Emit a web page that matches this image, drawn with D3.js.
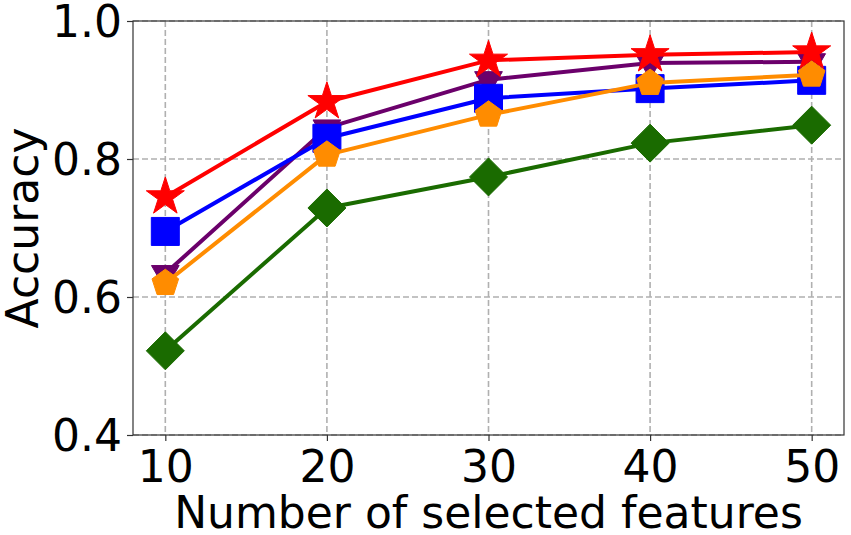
<!DOCTYPE html>
<html><head><meta charset="utf-8">
<script src="https://cdn.jsdelivr.net/npm/d3@7"></script>
<style>html,body{margin:0;padding:0;background:#fff;}svg{display:block;font-family:"DejaVu Sans",sans-serif;}</style>
</head><body>
<svg id="c" width="851" height="535"></svg>
<script>
const features = [10, 20, 30, 40, 50];
const xTicks = [10, 20, 30, 40, 50];
const yTicks = [0.4, 0.6, 0.8, 1.0];
const greenValues  = [0.522, 0.729, 0.774, 0.823, 0.849];
const purpleValues = [0.634, 0.845, 0.915, 0.939, 0.941];
const blueValues   = [0.695, 0.830, 0.888, 0.902, 0.914];
const orangeValues = [0.620, 0.806, 0.864, 0.910, 0.922];
const redValues    = [0.745, 0.883, 0.943, 0.951, 0.955];

const series = [
  {values: greenValues,  color: "#1a6b00", marker: "diamond"},
  {values: purpleValues, color: "#6b006b", marker: "tridown"},
  {values: blueValues,   color: "#0000ff", marker: "square"},
  {values: orangeValues, color: "#ff8c00", marker: "pentagon"},
  {values: redValues,    color: "#ff0000", marker: "star"}
];

const L = 133, R = 844, T = 21, B = 435;
const svg = d3.select("#c");
const x = d3.scaleLinear().domain([8, 52]).range([L, R]);
const y = d3.scaleLinear().domain([0.4, 1.0]).range([B, T]);

// grid
const g = svg.append("g");
g.selectAll("line.gx").data(xTicks).join("line")
  .attr("x1", d => x(d)).attr("x2", d => x(d)).attr("y1", T).attr("y2", B)
  .attr("stroke", "#b0b0b0").attr("stroke-width", 1.6).attr("stroke-dasharray", "6,3");
g.selectAll("line.gy").data(yTicks).join("line")
  .attr("y1", d => y(d)).attr("y2", d => y(d)).attr("x1", L).attr("x2", R)
  .attr("stroke", "#b0b0b0").attr("stroke-width", 1.6).attr("stroke-dasharray", "6,3");

function poly(pts){ return "M" + pts.map(p => p[0].toFixed(2) + "," + p[1].toFixed(2)).join("L") + "Z"; }
function markerPath(type){
  const pts = [];
  if (type === "star") {
    const Ro = 20, Ri = 20 * 0.381966;
    for (let i = 0; i < 10; i++) {
      const r = i % 2 === 0 ? Ro : Ri;
      const a = -Math.PI / 2 + i * Math.PI / 5;
      pts.push([r * Math.cos(a), r * Math.sin(a)]);
    }
  } else if (type === "pentagon") {
    const r = 14;
    for (let i = 0; i < 5; i++) {
      const a = -Math.PI / 2 + i * 2 * Math.PI / 5;
      pts.push([r * Math.cos(a), r * Math.sin(a)]);
    }
  } else if (type === "square") {
    const h = 14;
    pts.push([-h, -h], [h, -h], [h, h], [-h, h]);
  } else if (type === "diamond") {
    const h = 19;
    pts.push([0, -h], [h, 0], [0, h], [-h, 0]);
  } else if (type === "tridown") {
    const r = 16;
    for (let i = 0; i < 3; i++) {
      const a = Math.PI / 2 + i * 2 * Math.PI / 3;
      pts.push([r * Math.cos(a), r * Math.sin(a)]);
    }
  }
  return poly(pts);
}

const line = d3.line().x((d, i) => x(features[i])).y(d => y(d));
series.forEach(s => {
  const sg = svg.append("g");
  sg.append("path").datum(s.values).attr("d", line)
    .attr("fill", "none").attr("stroke", s.color).attr("stroke-width", 4).attr("stroke-linejoin", "round");
  sg.selectAll("path.m").data(s.values).join("path")
    .attr("class", "m")
    .attr("transform", (d, i) => `translate(${x(features[i])},${y(d)})`)
    .attr("d", markerPath(s.marker))
    .attr("fill", s.color).attr("stroke", s.color).attr("stroke-width", 1);
});

// frame
svg.append("rect").attr("x", L).attr("y", T).attr("width", R - L).attr("height", B - T)
  .attr("fill", "none").attr("stroke", "#333").attr("stroke-width", 1.2);

// axes
const xAxis = d3.axisBottom(x).tickValues(xTicks).tickFormat(d3.format("d")).tickSize(6).tickPadding(8);
const ax = svg.append("g").attr("transform", `translate(0,${B})`).call(xAxis);
ax.select(".domain").remove();
ax.selectAll("line").attr("stroke", "#333").attr("stroke-width", 1.2);
ax.selectAll("text").attr("font-size", 44).attr("font-family", "DejaVu Sans").attr("fill", "#000").attr("dy", null).attr("y", 47);

const yAxis = d3.axisLeft(y).tickValues(yTicks).tickFormat(d3.format(".1f")).tickSize(6).tickPadding(8);
const ay = svg.append("g").attr("transform", `translate(${L},0)`).call(yAxis);
ay.select(".domain").remove();
ay.selectAll("line").attr("stroke", "#333").attr("stroke-width", 1.2);
ay.selectAll("text").attr("font-size", 44).attr("font-family", "DejaVu Sans").attr("fill", "#000").attr("dy", "0.36em").attr("x", -11);

svg.append("text").attr("x", (L + R) / 2).attr("y", 528).attr("text-anchor", "middle")
  .attr("font-size", 44).text("Number of selected features");
svg.append("text").attr("transform", `translate(38,${(T + B) / 2}) rotate(-90)`).attr("text-anchor", "middle")
  .attr("font-size", 44).text("Accuracy");
</script>
</body></html>
